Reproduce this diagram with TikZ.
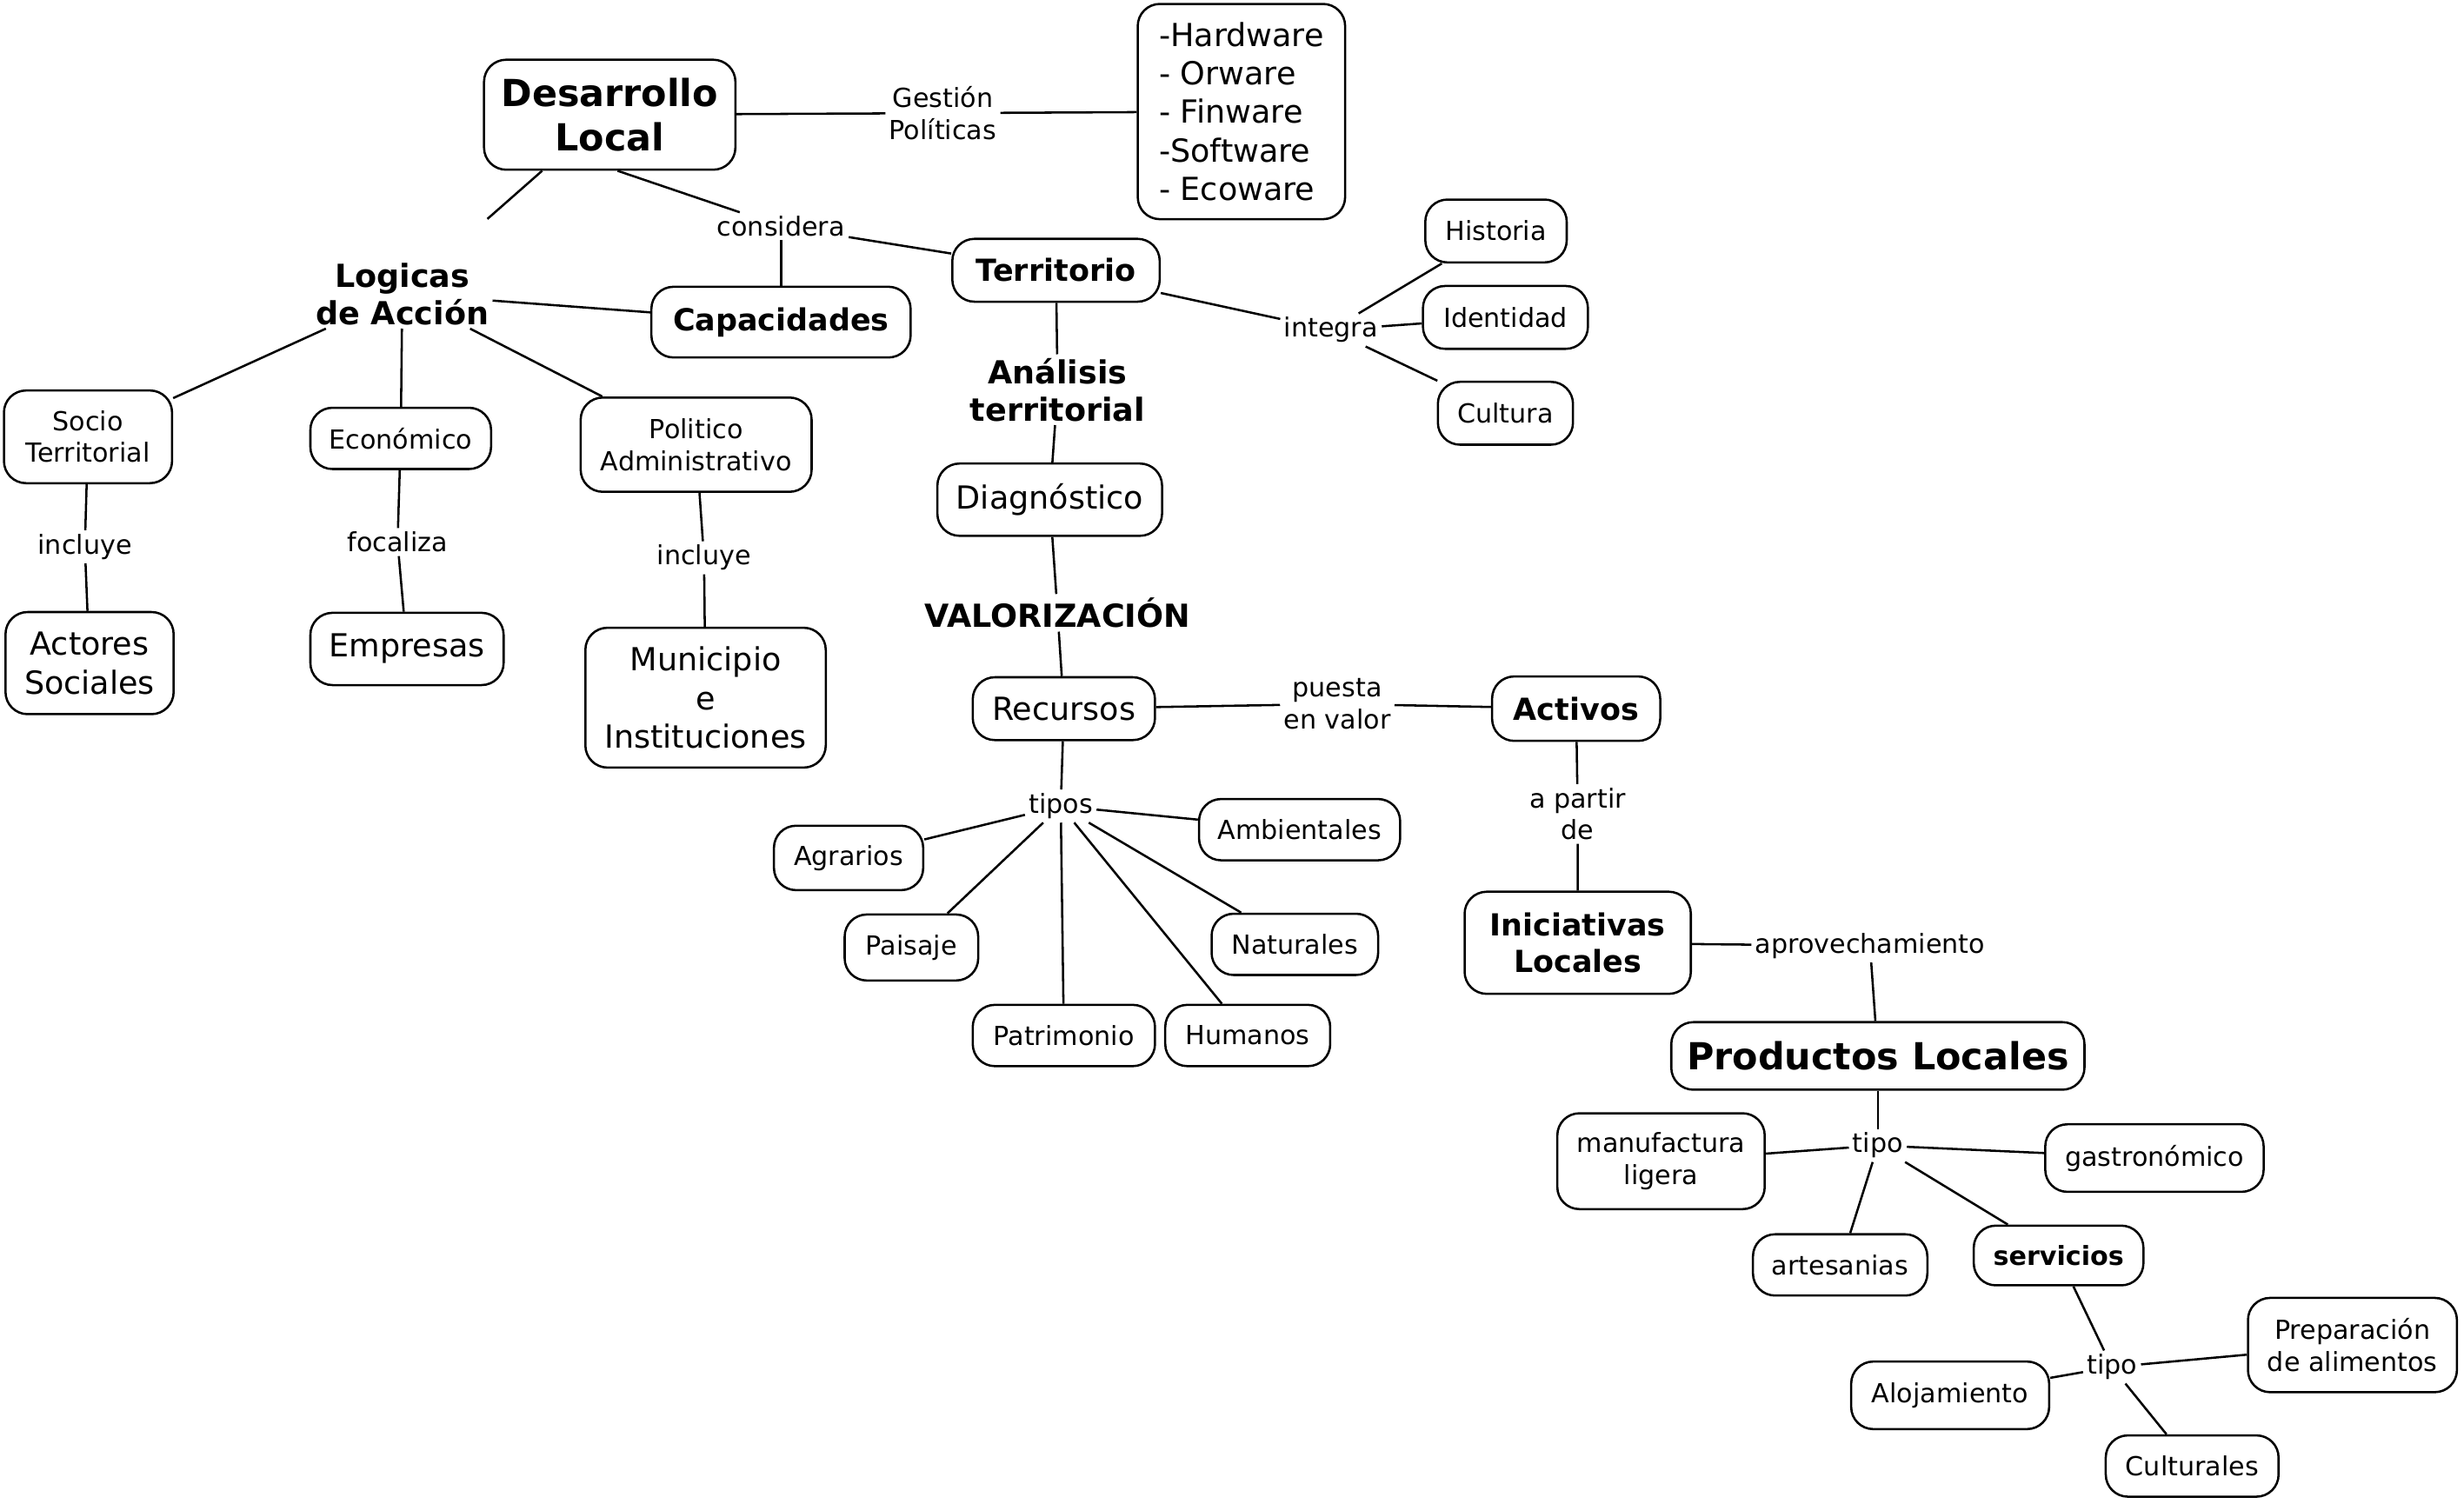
\documentclass[tikz,border=0pt]{standalone}
\usepackage{fontspec}
\setmainfont{DejaVu Sans}
\begin{document}
\begin{tikzpicture}[x=0.02cm,y=-0.02cm,line width=0.8pt,
 box/.style={draw,rounded corners=8pt,align=center,inner sep=0pt},
 sm/.style={font=\fontsize{9.5}{11.5}\selectfont},
 md/.style={font=\fontsize{11.5}{14}\selectfont},
 lg/.style={font=\bfseries\fontsize{13.5}{16}\selectfont},
 lbl/.style={align=center,inner sep=1pt,font=\fontsize{9.5}{11.5}\selectfont},
 blbl/.style={align=center,inner sep=1pt,font=\bfseries\fontsize{11.5}{13.5}\selectfont}]
\useasboundingbox (0,0) rectangle (1568,957);
% nodes
\node[box,lg,minimum width=3.2cm,minimum height=1.4cm] (dl) at (388,73) {Desarrollo\\Local};
\node[box,md,minimum width=2.64cm,minimum height=2.74cm,align=left] (hw) at (790,71) {-Hardware\\- Orware\\- Finware\\-Software\\- Ecoware};
\node[lbl] (gp) at (600,72) {Gestión\\Políticas};
\node[blbl] (la) at (256,187) {Logicas\\de Acción};
\node[box,md,font=\bfseries\fontsize{11}{13}\selectfont,minimum width=3.3cm,minimum height=0.9cm] (cap) at (497,205) {Capacidades};
\node[lbl] (cons) at (497,144) {considera};
\node[box,font=\bfseries\fontsize{11}{13}\selectfont,minimum width=2.64cm,minimum height=0.8cm] (ter) at (672,172) {Territorio};
\node[box,sm,minimum width=1.8cm,minimum height=0.8cm] (his) at (952,147) {Historia};
\node[box,sm,minimum width=2.1cm,minimum height=0.8cm] (ide) at (958,202) {Identidad};
\node[box,sm,minimum width=1.72cm,minimum height=0.8cm] (cul) at (958,263) {Cultura};
\node[lbl] (int) at (847,210) {integra};
\node[blbl] (an) at (673,248) {Análisis\\territorial};
\node[box,md,minimum width=2.86cm,minimum height=0.92cm] (dia) at (668,318) {Diagnóstico};
\node[blbl] (val) at (673,390) {VALORIZACIÓN};
\node[box,md,minimum width=2.32cm,minimum height=0.8cm] (rec) at (677,451) {Recursos};
\node[lbl] (pv) at (851,448) {puesta\\en valor};
\node[box,font=\bfseries\fontsize{11}{13}\selectfont,minimum width=2.14cm,minimum height=0.82cm] (act) at (1003,451) {Activos};
\node[lbl] (ap) at (1004,518) {a partir\\de};
\node[box,font=\bfseries\fontsize{11}{13}\selectfont,minimum width=2.88cm,minimum height=1.3cm] (ini) at (1004,600) {Iniciativas\\Locales};
\node[lbl] (apr) at (1190,602) {aprovechamiento};
\node[box,lg,minimum width=5.26cm,minimum height=0.86cm] (pro) at (1195,672) {Productos Locales};
\node[lbl] (tp) at (1195,729) {tipo};
\node[box,sm,minimum width=2.64cm,minimum height=1.22cm] (man) at (1057,739) {manufactura\\ligera};
\node[box,sm,minimum width=2.78cm,minimum height=0.86cm] (gas) at (1371,737) {gastronómico};
\node[box,sm,minimum width=2.22cm,minimum height=0.78cm] (art) at (1171,805) {artesanias};
\node[box,sm,font=\bfseries\fontsize{9.5}{11.5}\selectfont,minimum width=2.16cm,minimum height=0.76cm] (ser) at (1310,799) {servicios};
\node[lbl] (tp2) at (1344,870) {tipo};
\node[box,sm,minimum width=2.52cm,minimum height=0.86cm] (alo) at (1241,888) {Alojamiento};
\node[box,sm,minimum width=2.66cm,minimum height=1.2cm] (pre) at (1497,856) {Preparación\\de alimentos};
\node[box,sm,minimum width=2.2cm,minimum height=0.78cm] (cu2) at (1395,933) {Culturales};
\node[lbl] (tps) at (675,513) {tipos};
\node[box,sm,minimum width=1.9cm,minimum height=0.82cm] (agr) at (540,546) {Agrarios};
\node[box,sm,minimum width=2.56cm,minimum height=0.78cm] (amb) at (827,528) {Ambientales};
\node[box,sm,minimum width=1.7cm,minimum height=0.84cm] (pai) at (580,603) {Paisaje};
\node[box,sm,minimum width=2.12cm,minimum height=0.78cm] (nat) at (824,601) {Naturales};
\node[box,sm,minimum width=2.32cm,minimum height=0.78cm] (pat) at (677,659) {Patrimonio};
\node[box,sm,minimum width=2.1cm,minimum height=0.78cm] (hum) at (794,659) {Humanos};
\node[box,sm,minimum width=2.14cm,minimum height=1.18cm] (soc) at (56,278) {Socio\\Territorial};
\node[box,sm,minimum width=2.3cm,minimum height=0.78cm] (eco) at (255,279) {Económico};
\node[box,sm,minimum width=2.94cm,minimum height=1.2cm] (pol) at (443,283) {Politico\\Administrativo};
\node[lbl] (inc1) at (54,348) {incluye};
\node[lbl] (foc) at (253,345) {focaliza};
\node[lbl] (inc2) at (448,355) {incluye};
\node[box,md,minimum width=2.14cm,minimum height=1.3cm] (aso) at (57,422) {Actores\\Sociales};
\node[box,md,minimum width=2.46cm,minimum height=0.92cm] (emp) at (259,413) {Empresas};
\node[box,md,minimum width=3.06cm,minimum height=1.78cm] (mun) at (449,444) {Municipio\\e\\Instituciones};
% edges
\draw (dl) -- (gp) -- (hw);
\draw (dl.south) ++(5,0) -- (cons) -- (ter);
\draw (cons) -- (cap);
\draw[shorten >=22pt] (dl.south) ++(-43,0) -- (la);
\draw (la) -- (cap);
\draw (la) -- (soc);
\draw (la) -- (eco);
\draw (la) -- (pol);
\draw (soc) -- (inc1) -- (aso);
\draw (eco) -- (foc) -- (emp);
\draw (pol) -- (inc2) -- (mun);
\draw (ter) -- (int);
\draw (int) -- (his); \draw (int) -- (ide); \draw (int) -- (cul);
\draw (ter) -- (an) -- (dia) -- (val) -- (rec);
\draw (rec) -- (pv) -- (act) -- (ap) -- (ini);
\draw (ini) -- (apr) -- (pro);
\draw (pro) -- (tp);
\draw (tp) -- (man); \draw (tp) -- (gas); \draw (tp) -- (art); \draw (tp) -- (ser);
\draw (ser) -- (tp2);
\draw (tp2) -- (alo); \draw (tp2) -- (pre); \draw (tp2) -- (cu2);
\draw (rec) -- (tps);
\foreach \n in {agr,amb,pai,nat,pat,hum} \draw (tps) -- (\n);
\end{tikzpicture}
\end{document}
